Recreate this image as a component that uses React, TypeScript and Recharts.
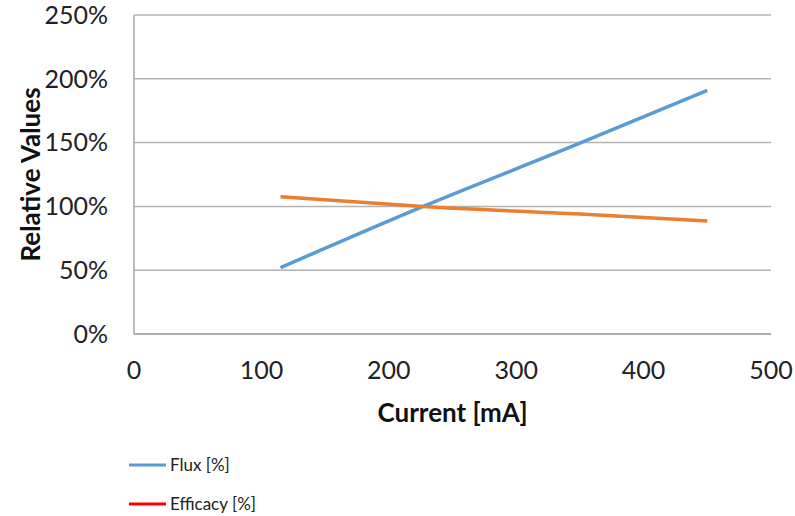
import { LineChart, Line, XAxis, YAxis, CartesianGrid, Legend } from 'recharts';

const currents = [115, 227, 350, 450];
const flux = [52, 100, 149.5, 191];
const efficacy = [107.5, 100, 94, 88.5];
const xTicks = [0, 100, 200, 300, 400, 500];
const yTicks = [0, 50, 100, 150, 200, 250];

const series = [
  { key: 'flux', name: 'Flux [%]', color: '#5B9BD5', legendColor: '#5B9BD5' },
  { key: 'efficacy', name: 'Efficacy [%]', color: '#ED7D31', legendColor: '#FF0000' },
];

const data = currents.map((c, i) => ({ current: c, flux: flux[i], efficacy: efficacy[i] }));

const FONT = 'Lato, "Open Sans", sans-serif';

function LegendBox() {
  return (
    <div style={{ fontFamily: FONT, fontSize: 17, color: '#222' }}>
      {series.map((s) => (
        <div key={s.key} style={{ display: 'flex', alignItems: 'center', height: 39 }}>
          <svg width={38} height={6}>
            <line x1={0} y1={3} x2={37} y2={3} stroke={s.legendColor} strokeWidth={3} />
          </svg>
          <span style={{ marginLeft: 3 }}>{s.name}</span>
        </div>
      ))}
    </div>
  );
}

export default function App() {
  return (
    <div style={{ position: 'absolute', left: 0, top: 0, width: 795, height: 516, background: '#fff' }}>
      <style>{`body{margin:0}`}</style>
      <LineChart width={795} height={516} data={data} margin={{ top: 15, right: 24, left: 0, bottom: 82 }}>
        <CartesianGrid vertical={false} stroke="#b3b3b3" strokeWidth={1.5} />
        <XAxis
          dataKey="current"
          type="number"
          domain={[0, 500]}
          ticks={xTicks}
          height={100}
          tickSize={0}
          tickMargin={27}
          axisLine={{ stroke: '#a6a6a6', strokeWidth: 1.5 }}
          tick={{ fill: '#222', fontSize: 25, fontFamily: FONT }}
          label={{
            content: ({ viewBox }: any) => (
              <text x={viewBox.x + viewBox.width / 2} y={422} textAnchor="middle" fontFamily={FONT} fontWeight="bold" fontSize={26} fill="#111">
                Current [mA]
              </text>
            ),
          }}
        />
        <YAxis
          type="number"
          domain={[0, 250]}
          ticks={yTicks}
          width={134}
          tickSize={0}
          tickMargin={26}
          tickFormatter={(v) => `${v}%`}
          axisLine={{ stroke: '#a6a6a6', strokeWidth: 1.5 }}
          tick={{ fill: '#222', fontSize: 25, fontFamily: FONT }}
          label={{
            content: ({ viewBox }: any) => (
              <text
                x={30}
                y={viewBox.y + viewBox.height / 2}
                textAnchor="middle"
                dominantBaseline="central"
                transform={`rotate(-90 30 ${viewBox.y + viewBox.height / 2})`}
                fontFamily={FONT}
                fontWeight="bold"
                fontSize={26}
                fill="#111"
              >
                Relative Values
              </text>
            ),
          }}
        />
        <Legend
          layout="horizontal"
          align="center"
          verticalAlign="middle"
          content={<LegendBox />}
          wrapperStyle={{ left: 129, top: 445, width: 200, height: 80 }}
        />
        {series.map((s) => (
          <Line
            key={s.key}
            type="monotone"
            dataKey={s.key}
            name={s.name}
            stroke={s.color}
            strokeWidth={3.5}
            dot={false}
            isAnimationActive={false}
          />
        ))}
      </LineChart>
    </div>
  );
}
